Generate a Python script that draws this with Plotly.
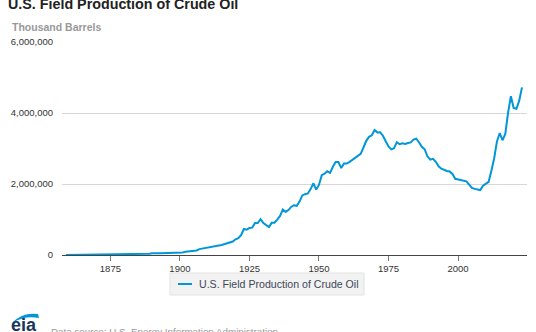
import plotly.graph_objects as go

years = list(range(1859, 2024))
production = [
    2, 500, 2114, 3057, 2611, 2116, 2498, 3598, 3347, 3646,
    4215, 5261, 5205, 6293, 9894, 10927, 8788, 9133, 13350, 15397,
    19914, 26286, 27661, 30350, 23450, 24218, 21859, 28065, 28283, 27612,
    35164, 45824, 54293, 50515, 48431, 49344, 52892, 60960, 60476, 55364,
    57071, 63621, 69389, 88767, 100461, 117081, 134717, 126494, 166095, 178527,
    183171, 209557, 220449, 222935, 248446, 265763, 281104, 300767, 335316, 355928,
    378367, 442929, 472183, 557531, 732407, 713940, 763743, 770874, 901129, 901474,
    1007323, 898011, 851081, 785159, 905656, 908065, 996596, 1099687, 1279160, 1214355,
    1264962, 1353214, 1402228, 1386645, 1505613, 1677904, 1713655, 1733939, 1856987, 2020185,
    1841940, 1973574, 2247711, 2289836, 2357082, 2314988, 2484428, 2617283, 2616901, 2448987,
    2574590, 2574933, 2621758, 2676189, 2752723, 2786822, 2848514, 3027763, 3215742, 3329042,
    3371751, 3517450, 3453914, 3455368, 3360903, 3202585, 3056779, 2976180, 3009265, 3178216,
    3121310, 3146365, 3128624, 3156715, 3170999, 3249696, 3274553, 3168252, 3047378, 2979123,
    2778773, 2684687, 2707039, 2624632, 2499033, 2431476, 2394268, 2366017, 2354831, 2281919,
    2146732, 2130707, 2117511, 2097124, 2073453, 1983300, 1890106, 1862257, 1848450, 1830339,
    1952955, 1998730, 2062815, 2373473, 2724964, 3199057, 3436097, 3232025, 3414520, 4011521,
    4471286, 4144350, 4120862, 4346543, 4721000,
]
series_name = "U.S. Field Production of Crude Oil"
x_ticks = [1875, 1900, 1925, 1950, 1975, 2000]
y_ticks = [0, 2000000, 4000000, 6000000]

W, H = 536, 332
L, R, T, B = 62, 527, 42, 255
BLUE = "#0096d7"
FONT = "Liberation Sans, Arial, sans-serif"


def px(x):
    return (x - L) / (R - L)


def py(y):
    return (B - y) / (B - T)


fig = go.Figure()
fig.add_trace(go.Scatter(
    x=years, y=production, mode="lines", name=series_name,
    line=dict(color=BLUE, width=2), showlegend=False,
))

shapes = [
    # legend box
    dict(type="rect", xref="paper", yref="paper",
         x0=px(170), x1=px(364), y0=py(273), y1=py(295),
         fillcolor="#f2f2f2", line=dict(color="#e2e2e2", width=1), layer="below"),
    dict(type="line", xref="paper", yref="paper",
         x0=px(178), x1=px(192), y0=py(284), y1=py(284),
         line=dict(color=BLUE, width=2)),
    # eia swoosh
    dict(type="path", xref="paper", yref="paper",
         path=(f"M {px(12)},{py(323)} Q {px(22)},{py(312)} {px(38)},{py(314)} "
               f"L {px(39)},{py(318)} Q {px(25)},{py(315)} {px(12)},{py(323)} Z"),
         fillcolor=BLUE, line=dict(width=0)),
]

annotations = [
    dict(text="<b>Thousand Barrels</b>", xref="paper", yref="paper",
         x=px(10), y=py(27), xanchor="left", yanchor="middle", showarrow=False,
         font=dict(family=FONT, size=10.5, color="#999999")),
    dict(text=series_name, xref="paper", yref="paper",
         x=px(197), y=py(284), xanchor="left", yanchor="middle", showarrow=False,
         font=dict(family=FONT, size=10.6, color="#3d4756")),
    dict(text="Data source: U.S. Energy Information Administration", xref="paper", yref="paper",
         x=px(49), y=py(324), xanchor="left", yanchor="top", showarrow=False,
         font=dict(family=FONT, size=9.8, color="#9a9a9a")),
    dict(text="<b>eia</b>", xref="paper", yref="paper",
         x=px(9), y=py(313), xanchor="left", yanchor="top", showarrow=False,
         font=dict(family=FONT, size=18, color="#1b365d")),
]

fig.update_layout(
    width=W, height=H,
    margin=dict(l=L, r=W - R, t=T, b=H - B, pad=0),
    paper_bgcolor="white", plot_bgcolor="white",
    font=dict(family=FONT, color="#333333"),
    title=dict(text="<b>U.S. Field Production of Crude Oil</b>",
               x=8 / W, xanchor="left", y=1 - 4 / H, yanchor="middle",
               xref="container", yref="container",
               font=dict(family=FONT, size=14.3, color="#222222")),
    xaxis=dict(range=[1857.6, 2024.8], tickmode="array", tickvals=x_ticks,
               showgrid=False, zeroline=False, showline=True, linecolor="#444444", linewidth=1,
               ticks="outside", ticklen=5, tickcolor="#777777",
               tickfont=dict(family=FONT, size=9.5, color="#333333"), fixedrange=True),
    yaxis=dict(range=[0, 6000000], tickmode="array", tickvals=y_ticks,
               tickformat=",d", showgrid=True, gridcolor="#d8d8d8", gridwidth=1,
               zeroline=False, showline=False, ticks="", ticklabelstandoff=8,
               tickfont=dict(family=FONT, size=9.5, color="#333333"), fixedrange=True),
    shapes=shapes, annotations=annotations, showlegend=False,
)

fig.write_html("out.html", config={"displayModeBar": False})
